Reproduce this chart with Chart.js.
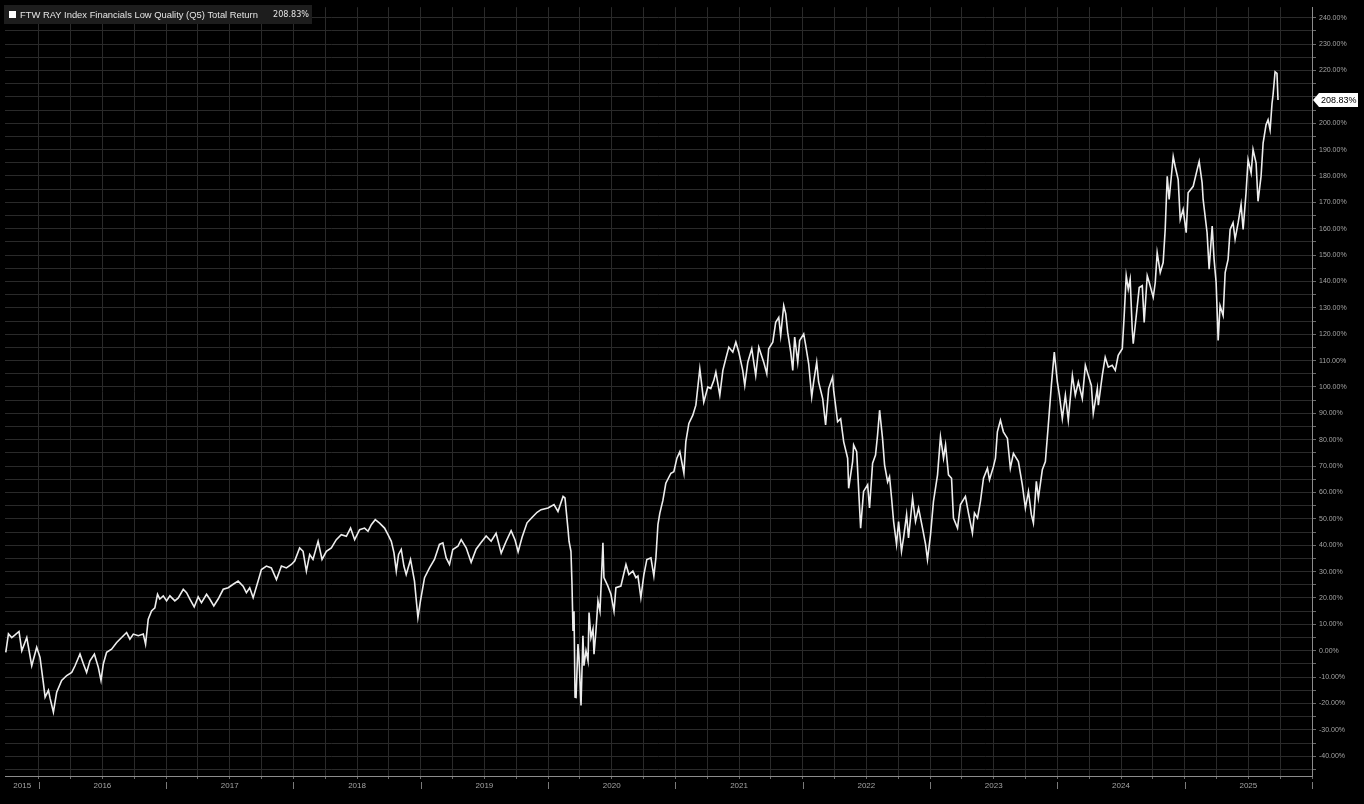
<!DOCTYPE html>
<html>
<head>
<meta charset="utf-8">
<title>FTW RAY Index Financials Low Quality (Q5) Total Return</title>
<script src="https://cdn.jsdelivr.net/npm/chart.js@4.4.1/dist/chart.umd.min.js"></script>
<style>
  html, body { margin: 0; padding: 0; background: #000; }
  #chart { display: block; }
</style>
</head>
<body>
<canvas id="chart" width="1364" height="804"></canvas>
<script>
const SERIES_NAME = 'FTW RAY Index Financials Low Quality (Q5) Total Return';

// decimal years (x) and total return in % (y)
const dates = [
  2015.741, 2015.762, 2015.788, 2015.814, 2015.845, 2015.867, 2015.906, 2015.945, 2015.984,
  2016.010, 2016.037, 2016.050, 2016.076, 2016.089, 2016.115, 2016.141, 2016.180, 2016.220,
  2016.259, 2016.285, 2016.324, 2016.351, 2016.376, 2016.402, 2016.437, 2016.468, 2016.489,
  2016.507, 2016.533, 2016.572, 2016.612, 2016.651, 2016.690, 2016.716, 2016.743, 2016.782,
  2016.821, 2016.839, 2016.860, 2016.886, 2016.912, 2016.933, 2016.951, 2016.978,
  2017.004, 2017.030, 2017.069, 2017.096, 2017.135, 2017.161, 2017.187, 2017.221, 2017.252,
  2017.278, 2017.318, 2017.343, 2017.375, 2017.409, 2017.449, 2017.488, 2017.527, 2017.566,
  2017.605, 2017.631, 2017.657, 2017.684, 2017.723, 2017.749, 2017.788, 2017.827, 2017.867,
  2017.906, 2017.945, 2017.984,
  2018.010, 2018.049, 2018.076, 2018.102, 2018.128, 2018.154, 2018.194, 2018.225, 2018.259,
  2018.298, 2018.337, 2018.376, 2018.416, 2018.449, 2018.481, 2018.520, 2018.559, 2018.586,
  2018.612, 2018.643, 2018.677, 2018.716, 2018.743, 2018.769, 2018.790, 2018.808, 2018.826,
  2018.847, 2018.868, 2018.886, 2018.920, 2018.951, 2018.978, 2018.998,
  2019.030, 2019.069, 2019.108, 2019.147, 2019.174, 2019.200, 2019.226, 2019.252, 2019.292,
  2019.318, 2019.357, 2019.396, 2019.435, 2019.474, 2019.514, 2019.553, 2019.592, 2019.632,
  2019.671, 2019.710, 2019.741, 2019.765, 2019.796, 2019.835, 2019.874, 2019.914, 2019.945,
  2020.000, 2020.047, 2020.078, 2020.118, 2020.133, 2020.157, 2020.165, 2020.180, 2020.188,
  2020.196, 2020.204, 2020.212, 2020.220, 2020.235, 2020.243, 2020.259, 2020.274, 2020.282,
  2020.298, 2020.314, 2020.322, 2020.337, 2020.353, 2020.361, 2020.376, 2020.392, 2020.408,
  2020.431, 2020.439, 2020.470, 2020.494, 2020.518, 2020.533, 2020.572, 2020.612, 2020.635,
  2020.666, 2020.690, 2020.706, 2020.729, 2020.753, 2020.776, 2020.808, 2020.831, 2020.847,
  2020.863, 2020.878, 2020.902, 2020.925, 2020.965, 2020.988,
  2021.012, 2021.035, 2021.067, 2021.082, 2021.106, 2021.137, 2021.161, 2021.192, 2021.223,
  2021.255, 2021.278, 2021.302, 2021.318, 2021.349, 2021.373, 2021.396, 2021.420, 2021.451,
  2021.475, 2021.498, 2021.529, 2021.545, 2021.569, 2021.600, 2021.631, 2021.655, 2021.694,
  2021.718, 2021.733, 2021.765, 2021.788, 2021.812, 2021.827, 2021.851, 2021.867, 2021.882,
  2021.906, 2021.922, 2021.937, 2021.961, 2021.976,
  2022.008, 2022.024, 2022.047, 2022.071, 2022.086, 2022.110, 2022.125, 2022.157, 2022.180,
  2022.204, 2022.235, 2022.243, 2022.274, 2022.298, 2022.322, 2022.353, 2022.361, 2022.392,
  2022.400, 2022.424, 2022.455, 2022.478, 2022.510, 2022.525, 2022.549, 2022.572, 2022.588,
  2022.604, 2022.627, 2022.643, 2022.667, 2022.682, 2022.698, 2022.714, 2022.737, 2022.753,
  2022.776, 2022.792, 2022.816, 2022.831, 2022.863, 2022.886, 2022.910, 2022.941, 2022.965,
  2022.980,
  2023.004, 2023.027, 2023.059, 2023.082, 2023.106, 2023.122, 2023.145, 2023.169, 2023.184,
  2023.216, 2023.239, 2023.278, 2023.302, 2023.333, 2023.349, 2023.373, 2023.396, 2023.420,
  2023.451, 2023.467, 2023.498, 2023.514, 2023.529, 2023.553, 2023.576, 2023.608, 2023.631,
  2023.655, 2023.694, 2023.725, 2023.749, 2023.773, 2023.796, 2023.812, 2023.835, 2023.851,
  2023.882, 2023.906, 2023.929, 2023.953, 2023.976,
  2024.000, 2024.016, 2024.039, 2024.063, 2024.086, 2024.118, 2024.141, 2024.165, 2024.196,
  2024.220, 2024.243, 2024.267, 2024.282, 2024.314, 2024.322, 2024.353, 2024.376, 2024.400,
  2024.431, 2024.455, 2024.478, 2024.510, 2024.525, 2024.541, 2024.557, 2024.572, 2024.588,
  2024.596, 2024.620, 2024.643, 2024.667, 2024.682, 2024.706, 2024.722, 2024.753, 2024.769,
  2024.784, 2024.808, 2024.831, 2024.847, 2024.863, 2024.878, 2024.910, 2024.925, 2024.949,
  2024.965, 2024.988,
  2025.012, 2025.027, 2025.067, 2025.098, 2025.114, 2025.137, 2025.145, 2025.176, 2025.192,
  2025.216, 2025.231, 2025.247, 2025.263, 2025.278, 2025.302, 2025.318, 2025.341, 2025.357,
  2025.380, 2025.396, 2025.420, 2025.443, 2025.459, 2025.482, 2025.498, 2025.522, 2025.537,
  2025.561, 2025.576, 2025.600, 2025.616, 2025.639, 2025.655, 2025.671, 2025.686, 2025.694,
  2025.710, 2025.725, 2025.733,
];

const totalReturn = [
  -0.6, 6.4, 5.0, 6.0, 7.3, 0.0, 5.0, -5.7, 1.3,
  -2.5, -12.5, -17.6, -15.0, -18.0, -23.3, -15.7, -11.3, -9.4,
  -8.2, -5.7, -1.2, -5.0, -8.2, -3.8, -1.3, -6.3, -11.3,
  -5.0, -0.6, 0.6, 3.1, 5.0, 6.9, 4.4, 6.3, 5.7,
  6.3, 2.5, 12.0, 15.1, 16.3, 21.4, 19.6, 20.8,
  18.9, 20.8, 18.9, 20.0, 23.3, 22.0, 19.6, 16.6, 20.4,
  18.2, 21.4, 19.6, 17.0, 19.6, 23.3, 23.9, 25.2, 26.4,
  24.5, 22.0, 23.9, 20.1, 26.4, 30.8, 32.1, 31.4, 27.0,
  32.1, 31.4, 32.7,
  34.0, 39.0, 37.7, 30.2, 36.5, 34.6, 41.5, 34.6, 37.7,
  39.0, 42.1, 44.0, 43.4, 46.5, 42.1, 45.9, 46.5, 45.3,
  47.8, 49.7, 48.4, 46.5, 44.0, 41.5, 37.1, 30.2, 36.5,
  38.4, 32.1, 28.9, 34.6, 26.4, 12.6, 18.9,
  27.7, 31.4, 34.6, 40.3, 40.9, 35.2, 32.7, 38.4, 39.6,
  42.1, 39.0, 33.5, 38.5, 41.0, 43.5, 41.5, 44.5, 37.0,
  41.5, 45.5, 42.0, 37.5, 43.0, 48.5, 50.5, 52.5, 53.5,
  54.1, 55.4, 52.8, 58.5, 57.9, 45.9, 41.5, 37.7, 25.3,
  7.5, 15.0, -17.6, -17.7, 2.5, -2.5, -20.8, 5.7, -5.7,
  0.0, -3.8, 14.5, 5.0, 8.2, -1.3, 7.5, 18.9, 15.0,
  40.9, 27.7, 24.5, 21.4, 15.0, 23.9, 24.5, 32.7, 28.9,
  30.2, 27.7, 28.3, 20.1, 28.9, 34.6, 35.2, 28.3, 35.2,
  47.8, 52.2, 57.0, 63.5, 67.3, 67.9,
  73.0, 75.5, 67.3, 79.2, 86.2, 89.3, 93.1, 106.9, 94.3,
  100.0, 99.4, 102.5, 105.7, 96.9, 106.3, 110.7, 115.1, 113.2,
  117.0, 113.2, 106.3, 100.6, 109.4, 114.5, 104.4, 115.1, 109.4,
  105.0, 114.5, 117.0, 124.5, 126.4, 119.5, 130.8, 127.7, 120.8,
  113.2, 106.3, 118.9, 109.4, 117.6,
  120.1, 115.7, 108.8, 96.2, 101.9, 109.4, 101.9, 95.6, 85.6,
  99.4, 103.8, 98.8, 86.8, 88.0, 79.2, 73.0, 61.6, 71.7,
  78.0, 75.5, 46.5, 60.4, 62.9, 54.1, 71.1, 74.2, 81.8,
  91.2, 80.5, 70.5, 64.0, 66.0, 57.9, 49.0, 40.3, 49.0,
  37.7, 42.8, 51.6, 42.8, 57.9, 49.0, 54.1, 46.5, 40.3,
  34.6,
  44.0, 56.6, 66.7, 81.1, 73.0, 78.0, 66.7, 65.4, 50.3,
  46.5, 55.4, 58.5, 52.2, 44.6, 52.2, 50.3, 56.6, 65.4,
  69.2, 64.8, 69.8, 73.0, 83.0, 87.4, 83.0, 80.5, 69.2,
  74.8, 71.7, 62.9, 54.1, 60.4, 51.6, 48.4, 64.2, 57.9,
  68.6, 71.7, 85.6, 100.6, 113.2,
  101.9, 96.9, 88.0, 96.9, 87.4, 104.4, 96.9, 101.9, 95.6,
  108.2, 104.4, 100.6, 89.9, 99.4, 93.1, 104.4, 111.3, 107.5,
  108.2, 106.3, 112.0, 114.5, 127.1, 142.2, 137.1, 140.9, 122.0,
  116.4, 127.1, 137.7, 138.4, 124.5, 142.2, 139.6, 134.0, 139.6,
  150.9, 143.4, 147.2, 159.7, 179.9, 171.1, 187.4, 183.7, 178.6,
  163.5, 167.3,
  158.5, 173.6, 176.1, 182.4, 185.5, 177.4, 171.1, 158.5, 144.7,
  161.0, 148.4, 139.6, 117.6, 130.8, 127.1, 143.4, 148.4, 159.7,
  162.3, 156.0, 162.3, 169.2, 159.7, 173.6, 186.2, 181.1, 190.0,
  184.9, 170.4, 179.9, 192.5, 199.4, 201.3, 197.5, 207.5, 210.7,
  219.5, 218.9, 208.83,
];

// year labels sit in the middle of each year band; 2015 only shows its last quarter
const yearLabels = ['2015', '2016', '2017', '2018', '2019', '2020', '2021', '2022', '2023', '2024', '2025'];
const yearLabelAt = [2015.87, 2016.5, 2017.5, 2018.5, 2019.5, 2020.5, 2021.5, 2022.5, 2023.5, 2024.5, 2025.5];

const X_MIN = 2015.735;
const X_MAX = 2026.0;
const Y_MIN = -47.5;
const Y_MAX = 244;

const COLORS = {
  bg: '#000000',
  line: '#ededed',
  grid: '#2a2a2a',
  axis: '#8c8c8c',
  tick: '#a3a3a3',
  legendBg: '#1d1d1d',
  legendText: '#e4e4e4',
};

const FONT = "'Liberation Sans', Arial, sans-serif";
const NARROW = "'Liberation Sans Narrow', 'DejaVu Sans Condensed', Arial, sans-serif";

function xTickValues() {
  const ticks = [];
  for (let q = 2016 * 4; q <= 2026 * 4; q++) ticks.push(q / 4);
  yearLabelAt.forEach((v) => { if (!ticks.includes(v)) ticks.push(v); });
  return ticks.sort((a, b) => a - b);
}

function yTickValues() {
  const ticks = [];
  for (let v = -45; v <= 240; v += 5) ticks.push(v);
  return ticks;
}

function labelIndex(value) {
  return yearLabelAt.findIndex((v) => Math.abs(v - value) < 1e-6);
}

function isGridTick(value) {
  return Math.abs(value * 4 - Math.round(value * 4)) < 1e-6;
}

// background, legend box, year separators and the last-value badge
const decorations = {
  id: 'decorations',
  beforeDraw(chart) {
    const { ctx } = chart;
    ctx.save();
    ctx.fillStyle = COLORS.bg;
    ctx.fillRect(0, 0, chart.width, chart.height);
    ctx.restore();
  },
  afterDraw(chart) {
    const { ctx, chartArea } = chart;
    const xs = chart.scales.x;
    const ys = chart.scales.y;
    ctx.save();

    // separators between year labels
    ctx.strokeStyle = '#7a7a7a';
    ctx.lineWidth = 1;
    for (let yr = 2016; yr <= 2026; yr++) {
      const px = Math.round(xs.getPixelForValue(yr)) + 0.5;
      ctx.beginPath();
      ctx.moveTo(px, chartArea.bottom + 6);
      ctx.lineTo(px, chartArea.bottom + 13);
      ctx.stroke();
    }

    // legend
    const last = totalReturn[totalReturn.length - 1];
    ctx.fillStyle = COLORS.legendBg;
    ctx.fillRect(4, 5, 308, 19);
    ctx.fillStyle = '#ffffff';
    ctx.fillRect(9, 11, 7, 7);
    ctx.textBaseline = 'middle';
    ctx.fillStyle = COLORS.legendText;
    ctx.font = `9.4px ${FONT}`;
    ctx.fillText(SERIES_NAME, 20, 15);
    ctx.font = `9px ${NARROW}`;
    ctx.fillText(`${last.toFixed(2)}%`, 273, 15);

    // last value badge on the right axis
    const py = ys.getPixelForValue(last);
    const left = chartArea.right + 1;
    ctx.fillStyle = '#ffffff';
    ctx.beginPath();
    ctx.moveTo(left, py);
    ctx.lineTo(left + 6, py - 7);
    ctx.lineTo(left + 45, py - 7);
    ctx.lineTo(left + 45, py + 7);
    ctx.lineTo(left + 6, py + 7);
    ctx.closePath();
    ctx.fill();
    ctx.fillStyle = '#000000';
    ctx.font = `9px ${FONT}`;
    ctx.fillText(`${last.toFixed(2)}%`, left + 8, py + 0.5);

    ctx.restore();
  },
};

function init() {
  const points = dates.map((d, i) => ({ x: d, y: totalReturn[i] }));

  new Chart(document.getElementById('chart'), {
    type: 'line',
    data: {
      datasets: [{
        label: SERIES_NAME,
        data: points,
        borderColor: COLORS.line,
        borderWidth: 1.6,
        pointRadius: 0,
        tension: 0,
        fill: false,
      }],
    },
    options: {
      responsive: false,
      animation: false,
      layout: { padding: { left: 5, top: 3, right: 0, bottom: 0 } },
      plugins: { legend: { display: false }, tooltip: { enabled: false } },
      scales: {
        x: {
          type: 'linear',
          position: 'bottom',
          min: X_MIN,
          max: X_MAX,
          afterBuildTicks: (scale) => { scale.ticks = xTickValues().map((v) => ({ value: v })); },
          afterFit: (scale) => { scale.height = 28; },
          ticks: {
            autoSkip: false,
            maxRotation: 0,
            padding: 2,
            color: COLORS.tick,
            font: { family: FONT, size: 8 },
            callback: (value) => {
              const i = labelIndex(value);
              return i >= 0 ? yearLabels[i] : '';
            },
          },
          grid: {
            color: (ctx) => (ctx.tick && !isGridTick(ctx.tick.value) ? 'rgba(0,0,0,0)' : COLORS.grid),
            tickColor: (ctx) => (ctx.tick && !isGridTick(ctx.tick.value) ? 'rgba(0,0,0,0)' : '#6a6a6a'),
            tickLength: 3,
            lineWidth: 1,
          },
          border: { color: COLORS.axis, width: 1 },
        },
        y: {
          type: 'linear',
          position: 'right',
          min: Y_MIN,
          max: Y_MAX,
          afterBuildTicks: (scale) => { scale.ticks = yTickValues().map((v) => ({ value: v })); },
          afterFit: (scale) => { scale.width = 52; },
          ticks: {
            autoSkip: false,
            padding: 3,
            color: COLORS.tick,
            font: { family: FONT, size: 7 },
            callback: (value) => (value % 10 === 0 ? `${value.toFixed(2)}%` : ''),
          },
          grid: {
            color: COLORS.grid,
            tickColor: '#6a6a6a',
            tickLength: 4,
            lineWidth: 1,
          },
          border: { color: COLORS.axis, width: 1 },
        },
      },
    },
    plugins: [decorations],
  });
}

document.addEventListener('DOMContentLoaded', init);
</script>
</body>
</html>
